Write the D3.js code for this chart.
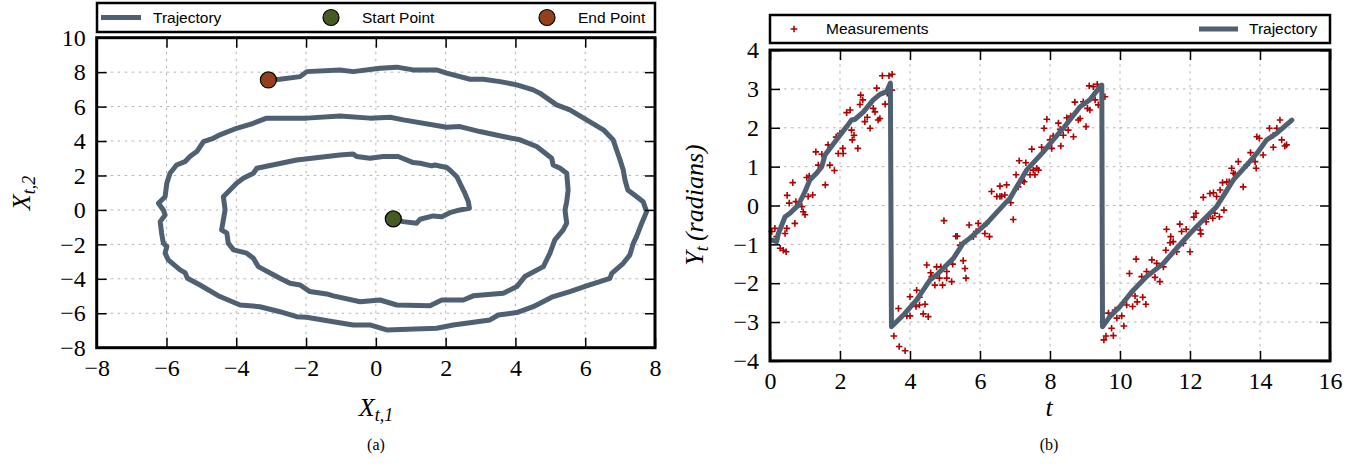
<!DOCTYPE html>
<html>
<head>
<meta charset="utf-8">
<script src="https://cdn.jsdelivr.net/npm/d3@7"></script>
<style>
body{margin:0;background:#fff;}
.tick text{font-family:"Liberation Serif",serif;font-size:24px;fill:#000;}
.legend text{font-family:"Liberation Sans",Arial,sans-serif;font-size:15.5px;fill:#000;}
.lab{font-family:"Liberation Serif",serif;font-style:italic;font-size:26px;fill:#000;}
.cap{font-family:"Liberation Serif",serif;font-size:16px;fill:#000;}
</style>
</head>
<body>
<svg id="chart" width="1367" height="466"></svg>
<script>
// (a) state trajectory X_t
const trajX1 = [0.50,0.78,1.17,1.27,1.64,1.89,2.12,2.41,2.68,2.65,2.55,2.41,2.32,2.12,2.03,1.69,1.60,1.27,1.07,0.64,0.21,-0.17,-0.55,-0.65,-1.03,-2.27,-3.41,-3.51,-3.80,-3.99,-4.37,-4.32,-4.37,-4.42,-4.27,-4.23,-4.08,-3.70,-3.51,-3.37,-2.75,-2.46,-2.17,-1.89,-1.41,-1.22,-0.45,0.12,0.60,1.55,1.89,2.51,2.79,3.65,4.04,4.27,4.80,4.99,5.13,5.37,5.47,5.42,5.47,5.51,5.47,5.28,5.08,5.04,4.61,4.13,3.65,2.98,2.41,2.03,0.79,0.41,-0.17,-1.03,-1.98,-3.13,-3.51,-3.99,-4.47,-4.66,-4.94,-5.13,-5.33,-5.47,-5.71,-5.90,-5.99,-6.04,-6.23,-6.09,-6.04,-6.18,-6.14,-6.09,-5.99,-6.04,-5.95,-5.61,-5.47,-5.40,-5.04,-4.47,-3.89,-3.32,-2.75,-2.27,-1.98,-1.22,-0.65,-0.17,0.31,1.74,2.22,3.27,3.51,4.04,4.51,5.04,5.56,6.04,6.71,6.76,7.09,7.28,7.38,7.47,7.62,7.76,7.66,7.45,7.22,7.14,7.09,7.00,6.90,6.80,6.52,6.04,5.56,5.18,4.70,4.51,4.04,3.56,3.08,2.70,2.03,1.74,1.07,0.60,0.12,-0.65,-1.03,-1.98,-2.17,-2.75,-3.08];
const trajX2 = [-0.52,-0.68,-0.77,-0.54,-0.35,-0.39,-0.16,0.00,0.10,0.48,0.97,1.55,1.93,2.32,2.46,2.61,2.56,2.71,2.75,3.10,3.10,3.00,3.10,3.25,3.19,2.90,2.42,2.13,1.84,1.55,0.77,0.00,-0.58,-1.16,-1.35,-1.93,-2.32,-2.51,-2.80,-3.29,-3.97,-4.26,-4.36,-4.74,-4.88,-4.99,-5.33,-5.23,-5.52,-5.56,-5.23,-5.23,-4.99,-4.84,-4.45,-3.87,-3.29,-2.51,-1.74,-1.16,-0.77,0.00,0.48,1.16,2.13,2.42,2.61,3.00,3.68,4.07,4.26,4.55,4.84,4.80,5.23,5.38,5.33,5.46,5.33,5.33,5.03,4.74,4.36,4.16,3.97,3.39,3.10,2.80,2.61,2.13,1.55,0.77,0.39,0.00,-0.29,-0.68,-1.35,-1.93,-2.13,-2.51,-2.90,-3.48,-3.64,-3.97,-4.36,-5.03,-5.52,-5.62,-5.91,-6.20,-6.23,-6.49,-6.68,-6.68,-6.97,-6.87,-6.68,-6.39,-6.10,-5.96,-5.62,-5.07,-4.74,-4.41,-3.97,-3.68,-3.10,-2.61,-1.93,-1.55,-0.77,-0.10,0.48,0.81,1.16,1.74,2.32,2.90,3.48,4.07,4.65,5.23,5.81,6.10,6.78,6.97,7.26,7.45,7.59,7.59,7.94,8.13,8.13,8.29,8.23,8.03,8.13,8.03,7.74,7.59,7.55];

// (b) angle trajectory and noisy measurements
const trajT = [0.05,0.19,0.24,0.43,0.57,0.81,1.00,1.14,1.33,1.48,1.57,1.71,2.00,2.19,2.33,2.43,2.67,2.95,3.14,3.33,3.44,3.47,3.81,4.19,4.57,4.76,5.24,5.52,5.71,6.19,6.67,6.86,7.33,7.81,8.09,8.38,8.86,9.14,9.43,9.48,9.50,9.71,10.00,10.38,10.76,11.24,11.62,12.00,12.38,12.76,13.24,13.62,13.91,14.19,14.48,14.91];
const trajY = [-0.89,-0.93,-0.72,-0.29,-0.20,0.01,0.36,0.66,0.83,1.00,1.30,1.47,1.81,2.03,2.20,2.22,2.41,2.72,2.86,2.93,3.15,-3.12,-2.82,-2.43,-1.92,-1.79,-1.36,-0.97,-0.84,-0.46,0.01,0.19,0.91,1.38,1.69,1.99,2.54,2.72,3.06,3.10,-3.12,-2.86,-2.60,-2.18,-1.83,-1.49,-1.10,-0.72,-0.37,-0.03,0.66,1.04,1.34,1.69,1.86,2.20];

const measT = [0.05,0.14,0.19,0.29,0.38,0.46,0.43,0.48,0.49,0.55,0.65,0.71,0.74,0.91,0.95,1.00,1.05,1.09,1.12,1.22,1.31,1.38,1.48,1.58,1.66,1.71,1.84,1.89,1.95,2.00,2.08,2.09,2.19,2.29,2.33,2.35,2.40,2.51,2.59,2.65,2.57,2.71,2.78,2.86,2.95,3.00,3.05,3.09,3.14,3.21,3.29,3.35,3.40,3.49,3.48,
  3.54,3.67,3.69,3.86,3.91,4.00,4.00,4.19,4.27,4.27,4.17,4.43,4.38,4.52,4.48,4.59,4.62,4.71,4.76,4.84,4.88,4.93,5.05,5.05,5.19,5.22,4.97,5.31,5.35,5.43,5.52,5.57,5.60,5.69,5.81,5.89,5.95,6.14,6.19,6.27,6.33,6.48,6.57,6.57,6.76,6.71,6.62,6.88,6.95,7.03,7.09,7.12,7.22,7.26,7.31,7.43,7.48,7.52,7.57,7.62,7.67,7.76,7.83,7.91,8.00,8.05,8.09,8.24,8.29,8.31,8.38,8.48,8.52,8.59,8.67,8.71,8.81,8.86,8.95,9.03,9.07,9.14,9.12,9.24,9.29,9.35,9.38,9.57,
  9.54,9.60,9.81,9.76,9.67,9.86,9.91,10.05,10.11,10.19,10.36,10.43,10.49,10.65,10.74,10.27,10.46,10.62,10.76,10.91,11.00,11.05,11.14,11.24,11.31,11.33,11.45,11.43,11.52,11.62,11.71,11.76,11.81,11.89,12.00,12.11,12.17,12.29,12.31,12.38,12.46,12.52,12.57,12.65,12.71,12.76,12.84,12.97,12.67,12.86,12.93,13.05,13.12,13.19,13.24,13.29,13.38,13.52,13.62,13.73,13.86,13.89,13.91,13.98,14.09,14.27,14.38,14.38,14.48,14.57,14.62,14.71,14.76];
const measY = [-0.67,-0.59,-0.80,-1.10,-1.15,-1.19,-0.72,-0.59,0.26,0.06,0.59,-0.46,0.10,-0.03,-0.16,-0.24,0.72,0.23,0.76,0.27,1.38,1.04,1.32,0.53,1.56,1.04,0.90,1.76,1.34,1.86,1.47,1.34,2.39,2.46,1.94,1.69,1.81,1.47,2.84,2.72,2.60,2.16,2.27,1.99,2.50,2.41,3.02,2.20,2.24,3.34,2.61,2.89,3.34,3.38,2.97,
  -3.36,-2.65,-3.63,-3.74,-2.84,-2.84,-2.35,-2.18,-2.36,-2.56,-2.60,-2.54,-2.79,-2.86,-1.53,-1.73,-1.83,-2.05,-1.58,-1.87,-1.58,-2.05,-1.87,-1.70,-1.96,-1.51,-0.39,-0.79,-0.79,-1.02,-1.42,-1.62,-1.87,-0.50,-0.80,-0.67,-0.46,-0.72,-0.46,-0.80,0.36,0.23,0.23,0.50,0.53,0.27,0.24,0.07,-0.36,0.79,0.48,1.15,0.64,0.61,1.10,0.79,1.45,0.91,0.79,0.96,0.91,1.50,1.99,2.22,1.69,1.47,1.79,2.12,1.96,1.53,1.81,2.26,1.94,2.30,1.77,2.66,2.20,2.24,2.67,2.03,2.50,2.46,3.08,3.06,2.72,3.12,2.59,2.80,
  -3.46,-3.36,-3.35,-3.16,-2.77,-2.69,-2.90,-2.84,-3.10,-2.56,-2.60,-2.33,-2.48,-2.36,-2.54,-1.75,-1.38,-1.83,-1.70,-1.40,-1.85,-1.49,-1.96,-1.58,-1.15,-0.61,-0.80,-0.96,-0.93,-1.19,-0.48,-0.67,-0.97,-0.61,-1.19,-0.30,-0.20,-0.63,-0.73,0.21,-0.42,-0.29,0.31,-0.33,-0.20,0.23,-0.29,-0.12,0.33,0.40,0.59,0.61,0.61,0.96,0.83,0.81,1.13,0.48,1.04,1.36,1.13,0.96,1.77,1.73,1.30,1.99,1.81,1.50,1.99,2.20,1.69,1.53,1.56];

const xTicksA = [-8,-6,-4,-2,0,2,4,6,8];
const yTicksA = [-8,-6,-4,-2,0,2,4,6,8,10];
const xTicksB = [0,2,4,6,8,10,12,14,16];
const yTicksB = [-4,-3,-2,-1,0,1,2,3,4];

const lineCol = '#4e6072';
const startCol = '#475a24';
const endCol = '#93401c';
const measCol = '#b00000';

const svg = d3.select('#chart');

// frame, inward ticks on all sides, dotted grid
function panel(opts){
  const x = d3.scaleLinear().domain(opts.xDomain).range([opts.x0, opts.x1]);
  const y = d3.scaleLinear().domain(opts.yDomain).range([opts.y1, opts.y0]);
  const g = svg.append('g');

  const grid = g.append('g').attr('stroke','#b4b4b4').attr('stroke-width',1).attr('stroke-dasharray','2.5,4.5');
  opts.xTicks.slice(1,-1).forEach(v => grid.append('line').attr('x1',x(v)).attr('x2',x(v)).attr('y1',opts.y0).attr('y2',opts.y1));
  opts.yTicks.slice(1,-1).forEach(v => grid.append('line').attr('y1',y(v)).attr('y2',y(v)).attr('x1',opts.x0).attr('x2',opts.x1));

  const data = g.append('g');
  const top = g.append('g');

  const fmt = d3.format('d');
  const ax = (sel, axis) => {
    sel.call(axis);
    sel.select('.domain').remove();
    sel.selectAll('.tick line').attr('stroke','#000').attr('stroke-width',1.5);
  };
  top.append('g').attr('transform','translate(0,'+opts.y1+')')
     .call(s => ax(s, d3.axisBottom(x).tickValues(opts.xTicks).tickFormat(fmt).tickSizeInner(-10).tickSizeOuter(0).tickPadding(11)));
  top.append('g').attr('transform','translate(0,'+opts.y0+')')
     .call(s => ax(s, d3.axisTop(x).tickValues(opts.xTicks).tickFormat('').tickSizeInner(-10).tickSizeOuter(0)));
  top.append('g').attr('transform','translate('+opts.x0+',0)')
     .call(s => ax(s, d3.axisLeft(y).tickValues(opts.yTicks).tickFormat(fmt).tickSizeInner(-10).tickSizeOuter(0).tickPadding(11)));
  top.append('g').attr('transform','translate('+opts.x1+',0)')
     .call(s => ax(s, d3.axisRight(y).tickValues(opts.yTicks).tickFormat('').tickSizeInner(-10).tickSizeOuter(0)));
  top.append('rect').attr('x',opts.x0).attr('y',opts.y0)
     .attr('width',opts.x1-opts.x0).attr('height',opts.y1-opts.y0)
     .attr('fill','none').attr('stroke','#000').attr('stroke-width',3);

  return {x, y, data};
}

// ---------- (a) ----------
const A = panel({x0:96.7, x1:655, y0:37.7, y1:347.7, xDomain:[-8,8], yDomain:[-8,10], xTicks:xTicksA, yTicks:yTicksA});
const ptsA = trajX1.map((v,i) => [v, trajX2[i]]);
A.data.append('path')
  .attr('d', d3.line().x(d => A.x(d[0])).y(d => A.y(d[1]))(ptsA))
  .attr('fill','none').attr('stroke',lineCol).attr('stroke-width',5)
  .attr('stroke-linejoin','round').attr('stroke-linecap','round');
A.data.append('circle').attr('cx',A.x(ptsA[0][0])).attr('cy',A.y(ptsA[0][1])).attr('r',8)
  .attr('fill',startCol).attr('stroke','#000').attr('stroke-width',1.2);
const last = ptsA[ptsA.length-1];
A.data.append('circle').attr('cx',A.x(last[0])).attr('cy',A.y(last[1])).attr('r',8)
  .attr('fill',endCol).attr('stroke','#000').attr('stroke-width',1.2);

// ---------- (b) ----------
const B = panel({x0:770, x1:1330, y0:50.1, y1:360.9, xDomain:[0,16], yDomain:[-4,4], xTicks:xTicksB, yTicks:yTicksB});
const plus = 'M-3.3,0H3.3M0,-3.3V3.3';
B.data.append('g').selectAll('path').data(measT.map((t,i) => [t, measY[i]])).enter()
  .append('path')
  .attr('d', plus)
  .attr('transform', d => 'translate('+B.x(d[0])+','+B.y(d[1])+')')
  .attr('stroke',measCol).attr('stroke-width',1.6).attr('fill','none');
B.data.append('path')
  .attr('d', d3.line().x((d,i) => B.x(trajT[i])).y(d => B.y(d))(trajY))
  .attr('fill','none').attr('stroke',lineCol).attr('stroke-width',5)
  .attr('stroke-linejoin','round').attr('stroke-linecap','round');

// ---------- legends ----------
const legA = svg.append('g').attr('class','legend');
legA.append('rect').attr('x',97).attr('y',3).attr('width',558).attr('height',29)
  .attr('fill','#fff').attr('stroke','#000').attr('stroke-width',2.5);
legA.append('line').attr('x1',101).attr('x2',141).attr('y1',17.5).attr('y2',17.5).attr('stroke',lineCol).attr('stroke-width',5);
legA.append('text').attr('x',153).attr('y',17.5).attr('dy','0.35em').text('Trajectory');
legA.append('circle').attr('cx',331).attr('cy',17.5).attr('r',8).attr('fill',startCol).attr('stroke','#000').attr('stroke-width',1.2);
legA.append('text').attr('x',362).attr('y',17.5).attr('dy','0.35em').text('Start Point');
legA.append('circle').attr('cx',547).attr('cy',17.5).attr('r',8).attr('fill',endCol).attr('stroke','#000').attr('stroke-width',1.2);
legA.append('text').attr('x',578).attr('y',17.5).attr('dy','0.35em').text('End Point');

const legB = svg.append('g').attr('class','legend');
legB.append('rect').attr('x',770).attr('y',15).attr('width',560).attr('height',28)
  .attr('fill','#fff').attr('stroke','#000').attr('stroke-width',2.5);
legB.append('path').attr('d',plus).attr('transform','translate(794,29)').attr('stroke',measCol).attr('stroke-width',1.6);
legB.append('text').attr('x',826).attr('y',29).attr('dy','0.35em').text('Measurements');
legB.append('line').attr('x1',1199).attr('x2',1238).attr('y1',29).attr('y2',29).attr('stroke',lineCol).attr('stroke-width',5);
legB.append('text').attr('x',1249).attr('y',29).attr('dy','0.35em').text('Trajectory');

// ---------- axis labels, captions ----------
function subLabel(x, y, rot, main, sub, rest){
  const t = svg.append('text').attr('class','lab')
    .attr('transform','translate('+x+','+y+') rotate('+rot+')')
    .attr('text-anchor','middle').attr('dy','0.35em');
  t.append('tspan').text(main);
  t.append('tspan').attr('dy',5).attr('font-size',18).text(sub);
  if(rest) t.append('tspan').attr('dy',-5).text(rest);
}
subLabel(376, 407, 0, 'X', 't,1');
subLabel(21, 193, -90, 'X', 't,2');
subLabel(694, 205, -90, 'Y', 't', '\u2009(radians)');
svg.append('text').attr('class','lab').attr('x',1049).attr('y',407).attr('dy','0.35em').attr('text-anchor','middle').text('t');

svg.append('text').attr('class','cap').attr('x',376).attr('y',444).attr('dy','0.35em').attr('text-anchor','middle').text('(a)');
svg.append('text').attr('class','cap').attr('x',1049).attr('y',444).attr('dy','0.35em').attr('text-anchor','middle').text('(b)');
</script>
</body>
</html>
